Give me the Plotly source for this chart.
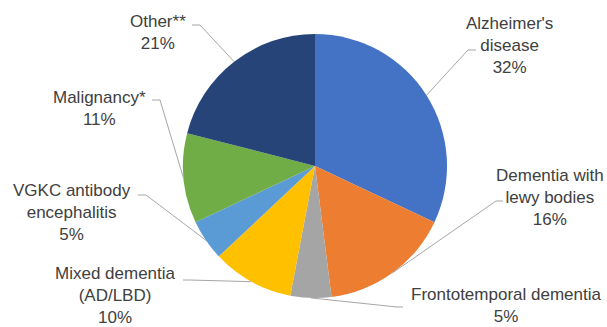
import math
import plotly.graph_objects as go

# Diagnosis breakdown
categories = [
    "Alzheimer's disease",
    "Dementia with lewy bodies",
    "Frontotemporal dementia",
    "Mixed dementia (AD/LBD)",
    "VGKC antibody encephalitis",
    "Malignancy*",
    "Other**",
]
shares = [32, 16, 5, 10, 5, 11, 21]
label_lines = [
    ["Alzheimer's", "disease"],
    ["Dementia with", "lewy bodies"],
    ["Frontotemporal dementia"],
    ["Mixed dementia", "(AD/LBD)"],
    ["VGKC antibody", "encephalitis"],
    ["Malignancy*"],
    ["Other**"],
]

colors = ["#4472C4", "#ED7D31", "#A5A5A5", "#FFC000", "#5B9BD5", "#70AD47", "#264478"]

W, H = 607, 327
cx, cy, R = 315, 166, 132  # pie centre and radius in pixels

# label block centre (px) and the point where its leader line leaves the text (px)
label_pos = [
    (509, 45, (476, 50), 8),
    (550, 197, (503, 201), 7),
    (506, 305, (403, 307), 6),
    (115, 295, (183, 280), -7),
    (72, 212, (138, 195), -8),
    (100, 108, (152, 100), -8),
    (158, 32, (192, 25), -8),
]


def px(x, y):
    return x / W, 1 - y / H


fig = go.Figure(
    go.Pie(
        labels=categories,
        values=shares,
        sort=False,
        direction="clockwise",
        rotation=0,
        textinfo="none",
        marker=dict(colors=colors, line=dict(width=0)),
        domain=dict(x=[(cx - R) / W, (cx + R) / W], y=[(H - cy - R) / H, (H - cy + R) / H]),
        showlegend=False,
    )
)

total = sum(shares)
cum = 0
annotations = []
shapes = []
for i, v in enumerate(shares):
    mid = (cum + v / 2) / total * 2 * math.pi
    cum += v
    ex = cx + R * math.sin(mid)
    ey = cy - R * math.cos(mid)
    tx, ty, (sx, sy), dx = label_pos[i]
    pct = f"{round(v / total * 100)}%"
    text = "<br>".join(label_lines[i] + [pct])
    ax, ay = px(tx, ty)
    annotations.append(
        dict(
            x=ax, y=ay, xref="paper", yref="paper", text=text, showarrow=False,
            xanchor="center", yanchor="middle", align="center",
            font=dict(family="Liberation Sans, Arial, sans-serif", size=17, color="#404040"),
        )
    )
    p0 = px(sx, sy)
    p1 = px(sx - dx, sy)
    p2 = px(ex, ey)
    shapes.append(
        dict(
            type="path", xref="paper", yref="paper",
            path=f"M {p0[0]},{p0[1]} L {p1[0]},{p1[1]} L {p2[0]},{p2[1]}",
            line=dict(color="#A6A6A6", width=1),
        )
    )

fig.update_layout(
    width=W, height=H,
    margin=dict(l=0, r=0, t=0, b=0),
    paper_bgcolor="white",
    plot_bgcolor="white",
    annotations=annotations,
    shapes=shapes,
)

fig.write_html("out.html")
